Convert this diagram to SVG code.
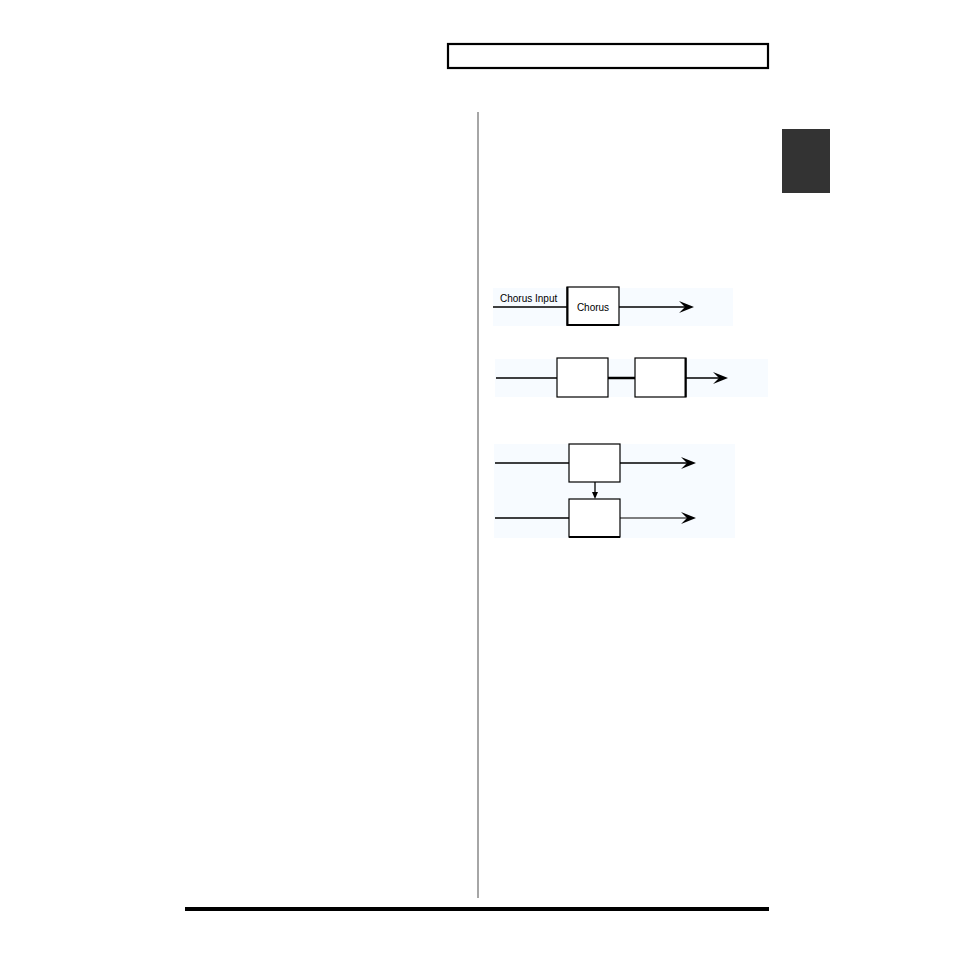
<svg xmlns="http://www.w3.org/2000/svg" width="954" height="954" viewBox="0 0 954 954">
<style>
.bg{fill:#f7fbff;stroke:none}
.box{fill:#fff;stroke:#000;stroke-width:1.2}
.ln{stroke:#000;stroke-width:1.3;fill:none}
.ah{fill:#000;stroke:none}
.t{font-family:"Liberation Sans",Arial,sans-serif;font-size:10px;fill:#000}
</style>
<defs>
<path id="arrow" d="M0,0 L-15,-6 L-9,0 L-15,6 Z"/>
</defs>
<rect width="954" height="954" fill="#fff"/>
<g id="page">
<rect x="448" y="44" width="320" height="24" fill="none" stroke="#000" stroke-width="2.2"/>
<rect x="782" y="129" width="48" height="64" fill="#333"/>
<line x1="478" y1="112" x2="478" y2="898" stroke="#888" stroke-width="1.5"/>
<rect x="185" y="907" width="584" height="4" fill="#000"/>
</g>
<g id="backgrounds">
<rect class="bg" x="493" y="288" width="240" height="38"/>
<rect class="bg" x="495" y="359" width="273" height="38"/>
<rect class="bg" x="494" y="444" width="241" height="94"/>
</g>
<g id="connectors">
<line class="ln" x1="493" y1="307" x2="567" y2="307"/>
<line class="ln" x1="619" y1="307" x2="685" y2="307"/>
<use href="#arrow" class="ah" x="694" y="307"/>
<line class="ln" x1="496" y1="378" x2="557" y2="378"/>
<line x1="608" y1="378" x2="635" y2="378" stroke="#000" stroke-width="2.5"/>
<line class="ln" x1="686" y1="378" x2="719" y2="378"/>
<use href="#arrow" class="ah" x="728" y="378"/>
<line class="ln" x1="495" y1="463" x2="569" y2="463"/>
<line class="ln" x1="620" y1="463" x2="687" y2="463"/>
<use href="#arrow" class="ah" x="696" y="463"/>
<line class="ln" x1="495" y1="518" x2="569" y2="518"/>
<line x1="620" y1="518" x2="687" y2="518" stroke="#555" stroke-width="1.3"/>
<use href="#arrow" class="ah" x="696" y="518"/>
<line class="ln" x1="595" y1="482" x2="595" y2="494"/>
<path class="ah" d="M595,499 L592,492 L598,492 Z"/>
</g>
<g id="chorus-label">
<text class="t" x="500" y="302">Chorus Input</text>
</g>
<g id="chorus">
<rect class="box" x="567" y="287" width="52" height="38"/>
<line x1="567.5" y1="287" x2="567.5" y2="326" stroke="#000" stroke-width="2"/>
<line x1="567" y1="325" x2="619" y2="325" stroke="#000" stroke-width="2"/>
<text class="t" x="593" y="311" text-anchor="middle">Chorus</text>
</g>
<g id="box2a">
<rect class="box" x="557" y="358" width="51" height="39"/>
</g>
<g id="box2b">
<rect class="box" x="635" y="358" width="51" height="39"/>
<line x1="685.5" y1="358" x2="685.5" y2="397" stroke="#000" stroke-width="2"/>
</g>
<g id="box3a">
<rect class="box" x="569" y="444" width="51" height="38"/>
</g>
<g id="box3b">
<rect class="box" x="569" y="499" width="51" height="38"/>
<line x1="569" y1="537" x2="620" y2="537" stroke="#000" stroke-width="2"/>
</g>
</svg>
